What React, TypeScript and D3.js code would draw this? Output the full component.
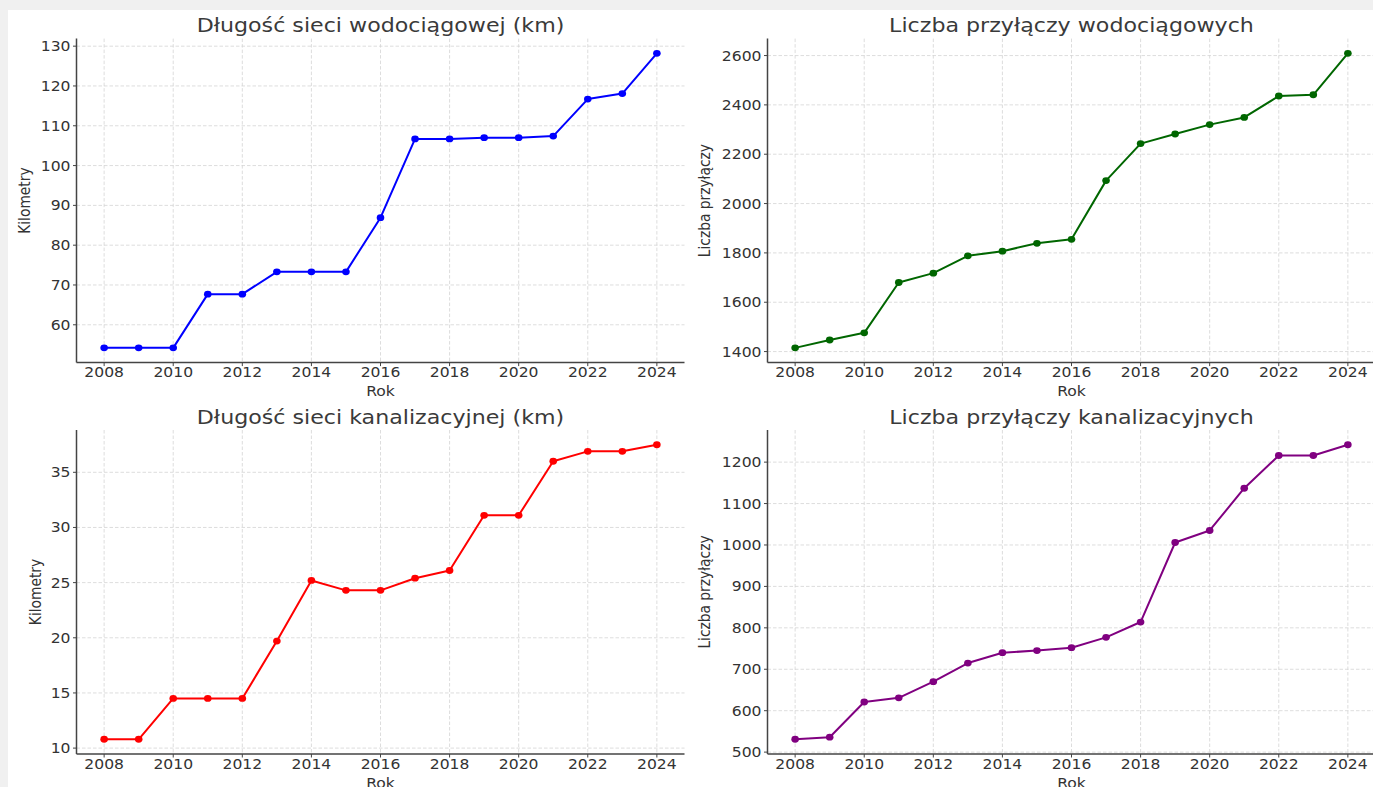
import React from "react";
import * as d3 from "d3";

const years = [2008, 2009, 2010, 2011, 2012, 2013, 2014, 2015, 2016, 2017, 2018, 2019, 2020, 2021, 2022, 2023, 2024];
const xTicks = [2008, 2010, 2012, 2014, 2016, 2018, 2020, 2022, 2024];

const waterNetKm = [54.2, 54.2, 54.2, 67.7, 67.7, 73.3, 73.3, 73.3, 86.9, 106.7, 106.7, 107.0, 107.0, 107.4, 116.7, 118.1, 128.2];
const waterConnections = [1415, 1447, 1476, 1680, 1718, 1788, 1807, 1839, 1855, 2093, 2243, 2282, 2320, 2349, 2436, 2441, 2609];
const sewerNetKm = [10.8, 10.8, 14.5, 14.5, 14.5, 19.7, 25.2, 24.3, 24.3, 25.4, 26.1, 31.1, 31.1, 36.0, 36.9, 36.9, 37.5];
const sewerConnections = [531, 536, 621, 631, 670, 715, 740, 745, 752, 777, 814, 1006, 1035, 1137, 1216, 1216, 1242];

const ticksWaterKm = [60, 70, 80, 90, 100, 110, 120, 130];
const ticksWaterConn = [1400, 1600, 1800, 2000, 2200, 2400, 2600];
const ticksSewerKm = [10, 15, 20, 25, 30, 35];
const ticksSewerConn = [500, 600, 700, 800, 900, 1000, 1100, 1200];

const titles = [
  "Długość sieci wodociągowej (km)",
  "Liczba przyłączy wodociągowych",
  "Długość sieci kanalizacyjnej (km)",
  "Liczba przyłączy kanalizacyjnych",
];
const yLabels = ["Kilometry", "Liczba przyłączy", "Kilometry", "Liczba przyłączy"];
const xLabel = "Rok";
const colors = ["#0000ff", "#006600", "#ff0000", "#800080"];

const W = 1373;
const H = 787;
const SX = 1.13;
const FONT = "DejaVu Sans, sans-serif";
const TXT = "#333333";

type PanelProps = {
  left: number;
  top: number;
  width: number;
  height: number;
  values: number[];
  ticks: number[];
  title: string;
  ylabel: string;
  color: string;
  ylabelOffset: number;
};

function Panel(p: PanelProps) {
  const right = p.left + p.width;
  const bottom = p.top + p.height;
  const x = d3.scaleLinear().domain([2007.2, 2024.8]).range([p.left, right]);
  const [mn, mx] = d3.extent(p.values) as [number, number];
  const m = (mx - mn) * 0.05;
  const y = d3.scaleLinear().domain([mn - m, mx + m]).range([bottom, p.top]);
  const line = d3
    .line<number>()
    .x((_, i) => x(years[i]))
    .y((v) => y(v));
  const cx = (p.left + right) / 2;
  const cy = (p.top + bottom) / 2;
  return (
    <g>
      {/* grid */}
      <g stroke="#d4d4d4" strokeWidth={0.8} strokeDasharray="3.5,2">
        {xTicks.map((t) => (
          <line key={`gx${t}`} x1={x(t)} x2={x(t)} y1={p.top} y2={bottom} />
        ))}
        {p.ticks.map((t) => (
          <line key={`gy${t}`} x1={p.left} x2={right} y1={y(t)} y2={y(t)} />
        ))}
      </g>
      {/* data */}
      <path d={line(p.values) || ""} fill="none" stroke={p.color} strokeWidth={2} strokeLinejoin="round" />
      {p.values.map((v, i) => (
        <ellipse key={i} cx={x(years[i])} cy={y(v)} rx={3.8} ry={3.4} fill={p.color} />
      ))}
      {/* spines */}
      <line x1={p.left} x2={p.left} y1={p.top} y2={bottom} stroke="#444" strokeWidth={1.5} />
      <line x1={p.left} x2={right} y1={bottom} y2={bottom} stroke="#444" strokeWidth={1.5} />
      {/* x ticks */}
      {xTicks.map((t) => (
        <g key={`tx${t}`}>
          <line x1={x(t)} x2={x(t)} y1={bottom} y2={bottom + 3.5} stroke="#444" strokeWidth={1} />
          <text
            transform={`translate(${x(t)},${bottom + 14.8}) scale(${SX},1)`}
            textAnchor="middle"
            fontSize={13.8}
            fontFamily={FONT}
            fill={TXT}
          >
            {t}
          </text>
        </g>
      ))}
      {/* y ticks */}
      {p.ticks.map((t) => (
        <g key={`ty${t}`}>
          <line x1={p.left - 3.5} x2={p.left} y1={y(t)} y2={y(t)} stroke="#444" strokeWidth={1} />
          <text
            transform={`translate(${p.left - 6},${y(t) + 5}) scale(${SX},1)`}
            textAnchor="end"
            fontSize={13.8}
            fontFamily={FONT}
            fill={TXT}
          >
            {t}
          </text>
        </g>
      ))}
      {/* labels */}
      <text
        transform={`translate(${cx},${bottom + 33.5}) scale(${SX},1)`}
        textAnchor="middle"
        fontSize={13.8}
        fontFamily={FONT}
        fill={TXT}
      >
        {xLabel}
      </text>
      <text
        transform={`translate(${p.left - p.ylabelOffset},${cy}) scale(${SX},1) rotate(-90)`}
        textAnchor="middle"
        fontSize={13.8}
        fontFamily={FONT}
        fill={TXT}
      >
        {p.ylabel}
      </text>
      <text
        transform={`translate(${cx},${p.top - 6.3}) scale(${SX},1)`}
        textAnchor="middle"
        fontSize={19.6}
        fontFamily={FONT}
        fill="#3a3a3a"
      >
        {p.title}
      </text>
    </g>
  );
}

export default function App() {
  const pw = 608;
  const ph = 324;
  const panels = [
    { left: 76.5, top: 38.6, values: waterNetKm, ticks: ticksWaterKm, off: 46.5 },
    { left: 767.5, top: 38.6, values: waterConnections, ticks: ticksWaterConn, off: 57.5 },
    { left: 76.5, top: 430, values: sewerNetKm, ticks: ticksSewerKm, off: 36 },
    { left: 767.5, top: 430, values: sewerConnections, ticks: ticksSewerConn, off: 57.5 },
  ];
  return (
    <svg
      width={W}
      height={H}
      style={{ position: "fixed", left: 0, top: 0, display: "block" }}
      xmlns="http://www.w3.org/2000/svg"
    >
      <rect x={0} y={0} width={W} height={H} fill="#f0f0f0" />
      <rect x={8} y={10} width={W - 8} height={H - 10} fill="#ffffff" />
      {panels.map((pp, i) => (
        <Panel
          key={i}
          left={pp.left}
          top={pp.top}
          width={pw}
          height={ph}
          values={pp.values}
          ticks={pp.ticks}
          title={titles[i]}
          ylabel={yLabels[i]}
          color={colors[i]}
          ylabelOffset={pp.off}
        />
      ))}
    </svg>
  );
}
